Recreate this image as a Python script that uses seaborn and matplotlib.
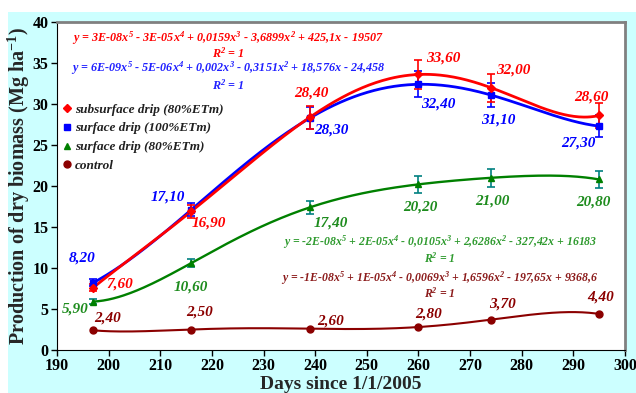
import numpy as np
import pandas as pd
import matplotlib
matplotlib.use('Agg')
import matplotlib.pyplot as plt
from matplotlib.patches import Rectangle
import seaborn as sns

days = [197, 216, 239, 260, 274, 295]
series = ['subsurface drip (80%ETm)', 'surface drip (100%ETm)', 'surface drip (80%ETm)', 'control']
sub80 = [7.60, 16.90, 28.40, 33.60, 32.00, 28.60]
surf100 = [8.20, 17.10, 28.30, 32.40, 31.10, 27.30]
surf80 = [5.90, 10.60, 17.40, 20.20, 21.00, 20.80]
control = [2.40, 2.50, 2.60, 2.80, 3.70, 4.40]
err_sub80 = [0.4, 0.8, 1.4, 1.8, 1.7, 1.5]
err_surf100 = [0.4, 0.8, 1.3, 1.6, 1.5, 1.3]
err_surf80 = [0.3, 0.5, 0.8, 1.0, 1.1, 1.0]
err_control = [0.0, 0.0, 0.0, 0.0, 0.0, 0.0]
equations = [
    'y = 3E-08x$^{5}$ - 3E-05x$^{4}$ + 0,0159x$^{3}$ - 3,6899x$^{2}$ + 425,1x - 19507',
    'y = 6E-09x$^{5}$ - 5E-06x$^{4}$ + 0,002x$^{3}$ - 0,3151x$^{2}$ + 18,576x - 24,458',
    'y = -2E-08x$^{5}$ + 2E-05x$^{4}$ - 0,0105x$^{3}$ + 2,6286x$^{2}$ - 327,42x + 16183',
    'y = -1E-08x$^{5}$ + 1E-05x$^{4}$ - 0,0069x$^{3}$ + 1,6596x$^{2}$ - 197,65x + 9368,6',
]

values = [sub80, surf100, surf80, control]
errors = [err_sub80, err_surf100, err_surf80, err_control]
colors = ['#ff0000', '#0000ff', '#008000', '#8b0000']
ecolors = ['#ff0000', '#0000ff', '#008080', '#8b0000']
markers = ['D', 's', '^', 'o']
msizes = [4, 5, 5, 5]
lws = [2.0, 2.0, 1.7, 1.5]
eq_colors = ['#ff0000', '#2020ff', '#2e9a2e', '#8b1a1a']
# label offsets in pixels (dx, dy up)
offsets = [
    [(27, 4), (18, -12), (1, 24), (25, 16), (23, 18), (-8, 18)],
    [(-11, 25), (-23, 13), (21, -12), (20, -20), (8, -25), (-21, -17)],
    [(-18, -7), (0, -24), (21, -16), (2, -23), (2, -23), (-6, -23)],
    [(14, 12), (8, 17), (21, 8), (10, 13), (12, 16), (1, 17)],
]
eq_pos = [(0.301, 0.951, 0.905), (0.301, 0.860, 0.808), (0.674, 0.329, 0.280), (0.674, 0.220, 0.174)]

rows = []
curves = []
for name, v, e in zip(series, values, errors):
    for d, y, er in zip(days, v, e):
        rows.append({'day': d, 'biomass': y, 'err': er, 'series': name})
    p = np.polynomial.Polynomial.fit(days, v, 5)
    xs = np.linspace(days[0], days[-1], 300)
    curves.append(pd.DataFrame({'day': xs, 'biomass': p(xs), 'series': name}))
df = pd.DataFrame(rows)
fit = pd.concat(curves, ignore_index=True)

sns.set_style('ticks')
plt.rcParams['font.family'] = ['Liberation Serif', 'DejaVu Serif']
plt.rcParams['mathtext.fontset'] = 'custom'
plt.rcParams['mathtext.rm'] = 'Liberation Serif:bold:italic'
plt.rcParams['mathtext.it'] = 'Liberation Serif:bold:italic'
plt.rcParams['mathtext.bf'] = 'Liberation Serif:bold'
plt.rcParams['mathtext.default'] = 'it'

fig = plt.figure(figsize=(6.36, 3.93), dpi=100, facecolor='white')
bg = Rectangle((8 / 636, 0), 1, (393 - 12) / 393, transform=fig.transFigure,
               facecolor='#ccffff', edgecolor='none', zorder=-10)
fig.add_artist(bg)
ax = fig.add_axes([57 / 636, 43 / 393, 568 / 636, 328 / 393])
ax.set_zorder(5)
ax.set_facecolor('white')

order = [3, 2, 1, 0]
for i in order:
    name = series[i]
    sub = fit[fit.series == name]
    sns.lineplot(data=sub, x='day', y='biomass', color=colors[i], lw=lws[i], ax=ax,
                 legend=False, zorder=2 + (3 - i) * 0.1)
    pts = df[df.series == name]
    if pts.err.max() > 0:
        ax.errorbar(pts.day, pts.biomass, yerr=pts.err, fmt='none', ecolor=ecolors[i],
                    elinewidth=1.2, capsize=3, capthick=1.2, zorder=3)
    ax.plot(pts.day, pts.biomass, ls='none', marker=markers[i], ms=msizes[i],
            color=colors[i], mec=colors[i], zorder=4)

# legend (marker only)
handles = [plt.Line2D([], [], ls='none', marker=markers[i], ms=msizes[i], color=colors[i])
           for i in range(4)]
leg = ax.legend(handles, series, loc='upper left', bbox_to_anchor=(0.008, 0.752), frameon=False,
                borderpad=0, borderaxespad=0, handlelength=0.8, handletextpad=0.2,
                labelspacing=0.5, prop={'weight': 'bold', 'style': 'italic', 'size': 9.5})
for t in leg.get_texts():
    t.set_color('#202020')

# data labels
for i in range(4):
    for d, y, off in zip(days, values[i], offsets[i]):
        ax.annotate(f'{y:.2f}'.replace('.', ','), (d, y), xytext=off, textcoords='offset pixels',
                    ha='center', va='center', color=colors[i] if i != 2 else '#1e8c1e',
                    fontsize=11, fontweight='bold', fontstyle='italic')

# trendline equations
for i in range(4):
    xc, ye, yr = eq_pos[i]
    fs = 8.7 if i < 2 else 8.5
    ax.text(xc, ye, equations[i], transform=ax.transAxes, ha='center', va='center',
            color=eq_colors[i], fontsize=fs, fontweight='bold', fontstyle='italic')
    ax.text(xc, yr, 'R$^{2}$ = 1', transform=ax.transAxes, ha='center', va='center',
            color=eq_colors[i], fontsize=fs, fontweight='bold', fontstyle='italic')

ax.set_xlim(190, 300)
ax.set_ylim(0, 40)
ax.set_xticks(range(190, 301, 10))
ax.set_yticks(range(0, 41, 5))
ax.tick_params(direction='out', length=4, width=1, colors='black', labelsize=11.5, pad=2)
for lab in ax.get_xticklabels() + ax.get_yticklabels():
    lab.set_fontweight('bold')
ax.spines['left'].set_color('black')
ax.spines['bottom'].set_color('black')
ax.spines['top'].set_color('#808080')
ax.spines['right'].set_color('#808080')
ax.spines['top'].set_linewidth(2)
ax.spines['right'].set_linewidth(2)

ax.set_xlabel('Days since 1/1/2005', fontsize=14, fontweight='bold')
ax.xaxis.set_label_coords(0.5, -0.08)
ax.set_ylabel('Production of dry biomass (Mg ha$^{\\mathbf{-1}}$)', fontsize=14.5, fontweight='bold')
ax.yaxis.set_label_coords(-0.044, 0.5)

fig.savefig('out.png', dpi=100, facecolor=fig.get_facecolor())
